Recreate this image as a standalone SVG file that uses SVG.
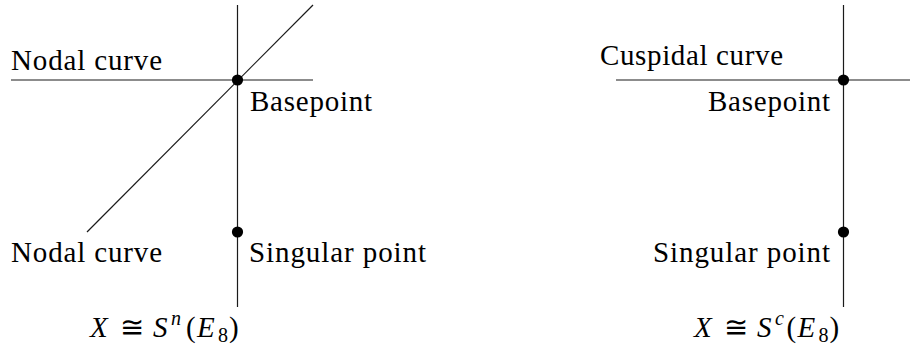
<svg xmlns="http://www.w3.org/2000/svg" width="910" height="351" viewBox="0 0 910 351" font-family="Liberation Serif, serif">
<style>
  .ln { stroke: #1a1a1a; stroke-width: 1.2; fill: none; }
  .dot { fill: #000; }
  .t { font-size: 29px; fill: #000; }
  .i { font-style: italic; }
  .s { font-size: 20px; }
</style>
<rect width="910" height="351" fill="#fff"/>
<g id="connectors">
  <line class="ln" x1="237.5" y1="5" x2="237.5" y2="307"/>
  <line class="ln" x1="11" y1="80" x2="313" y2="80"/>
  <line class="ln" x1="87" y1="232" x2="313" y2="5"/>
  <line class="ln" x1="843.5" y1="5" x2="843.5" y2="307"/>
  <line class="ln" x1="616" y1="80" x2="910" y2="80"/>
</g>
<g id="left-nodal-top">
  <text class="t" font-family="Liberation Serif" x="11" y="70" textLength="151">Nodal curve</text>
</g>
<g id="left-basepoint">
  <circle class="dot" cx="237.5" cy="80" r="5.6"/>
  <text class="t" font-family="Liberation Serif" x="250" y="111" textLength="122">Basepoint</text>
</g>
<g id="left-nodal-bottom">
  <text class="t" font-family="Liberation Serif" x="11" y="262" textLength="151">Nodal curve</text>
</g>
<g id="left-singular">
  <circle class="dot" cx="237.5" cy="232" r="5.6"/>
  <text class="t" font-family="Liberation Serif" x="249" y="262" textLength="177">Singular point</text>
</g>
<g id="left-formula">
  <text class="t" font-family="Liberation Serif" y="337"><tspan class="i" x="90">X</tspan><tspan x="120">≅</tspan><tspan class="i" x="153">S</tspan><tspan class="i s" x="171" y="325">n</tspan><tspan x="186" y="337">(</tspan><tspan class="i" x="197">E</tspan><tspan class="s" x="218" y="342">8</tspan><tspan x="229" y="337">)</tspan></text>
</g>
<g id="right-cuspidal">
  <text class="t" font-family="Liberation Serif" x="600" y="64.5" textLength="183">Cuspidal curve</text>
</g>
<g id="right-basepoint">
  <circle class="dot" cx="843.5" cy="80" r="5.6"/>
  <text class="t" font-family="Liberation Serif" x="708" y="111" textLength="122">Basepoint</text>
</g>
<g id="right-singular">
  <circle class="dot" cx="843.5" cy="232" r="5.6"/>
  <text class="t" font-family="Liberation Serif" x="653" y="262" textLength="177">Singular point</text>
</g>
<g id="right-formula">
  <text class="t" font-family="Liberation Serif" y="337"><tspan class="i" x="694">X</tspan><tspan x="724">≅</tspan><tspan class="i" x="757">S</tspan><tspan class="i s" x="775" y="325">c</tspan><tspan x="786.5" y="337">(</tspan><tspan class="i" x="797.5">E</tspan><tspan class="s" x="818.5" y="342">8</tspan><tspan x="829.5" y="337">)</tspan></text>
</g>
</svg>
